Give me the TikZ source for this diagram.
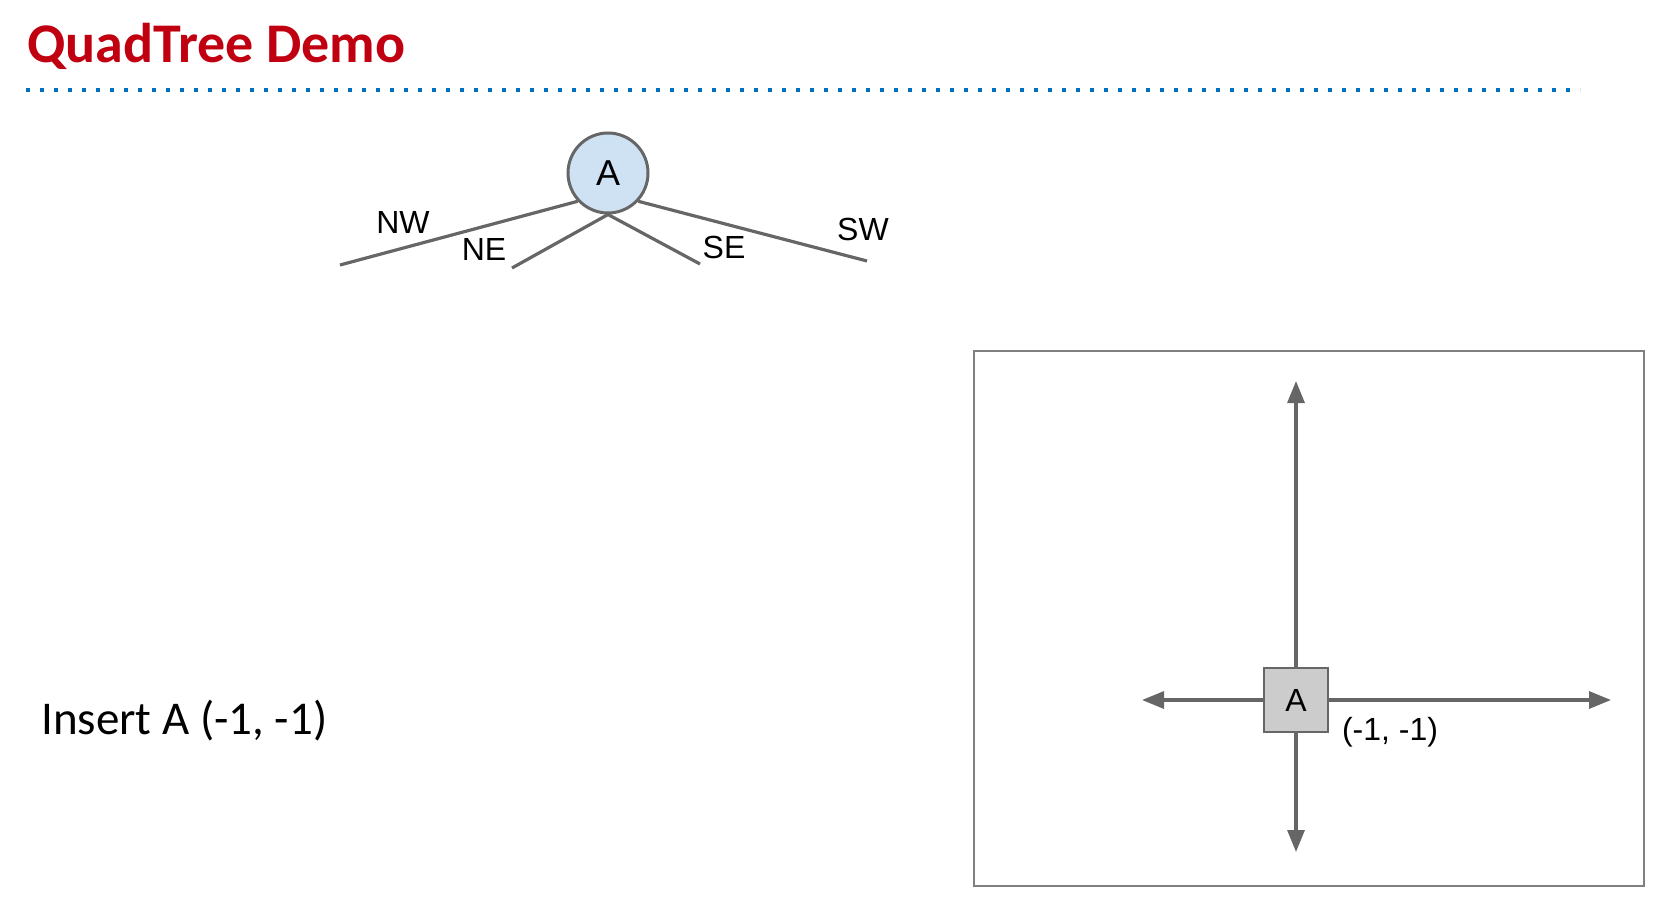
\documentclass[tikz,border=0pt]{standalone}
\usepackage{fontspec}
\setmainfont{Carlito}
\newfontfamily\arialfont{Liberation Sans}
\usetikzlibrary{arrows.meta}

\definecolor{titlered}{RGB}{192,0,16}
\definecolor{ruleblue}{RGB}{0,112,192}
\definecolor{edgegray}{RGB}{102,102,102}
\definecolor{nodeblue}{RGB}{207,226,243}
\definecolor{pointgray}{RGB}{204,204,204}

\tikzset{
    treeedge/.style={draw=edgegray, line width=3.2pt},
    quadlabel/.style={font=\arialfont\fontsize{32}{32}\selectfont, inner sep=0pt},
    axis/.style={draw=edgegray, line width=3.2pt, -{Triangle[length=22pt, width=17pt]}}
}

\begin{document}
\begin{tikzpicture}[x=1pt, y=-1pt]
            \useasboundingbox (0,0) rectangle (1660,904);

            % Title and the dotted rule under it
            \node[anchor=base west, inner sep=0pt, text=titlered, font=\bfseries\fontsize{56}{56}\selectfont] (title) at (27,63) {QuadTree Demo};
            \coordinate (ruleL) at (26,90);
            \coordinate (ruleR) at (1580,90);
            \draw[ruleblue, line width=3.5pt, dash pattern=on 3.5pt off 10.5pt] (ruleL) -- (ruleR);

            % Tree with the root A and its four quadrants
            \node[draw=edgegray, line width=3pt, circle, fill=nodeblue, minimum size=80pt, inner sep=0pt, font=\arialfont\fontsize{36}{36}\selectfont] (a) at (608,173) {A};
            \coordinate (nw) at (340,265);
            \coordinate (ne) at (512,268);
            \coordinate (se) at (700,264);
            \coordinate (sw) at (867,261);

            \draw[treeedge] (a.-137) -- (nw);
            \draw[treeedge] (a.south) -- (ne);
            \draw[treeedge] (a.south) -- (se);
            \draw[treeedge] (a.-43) -- (sw);

            \node[quadlabel] (lnw) at (403,222) {NW};
            \node[quadlabel] (lne) at (484,249) {NE};
            \node[quadlabel] (lse) at (724,247) {SE};
            \node[quadlabel] (lsw) at (863,229) {SW};

            % Step text
            \node[anchor=base west, inner sep=0pt, font=\fontsize{47}{47}\selectfont] (step1) at (41,734) {Insert A (-1, -1)};

            % Plane with the point A
            \node[draw=black!50, line width=2pt, minimum width=670pt, minimum height=535pt, inner sep=0pt] (plane) at (1309,618.5) {};
            \coordinate (up) at (1296,381);
            \coordinate (down) at (1296,852);
            \coordinate (left) at (1142,700);
            \coordinate (right) at (1611,700);
            \node[draw=edgegray, line width=2pt, fill=pointgray, minimum size=64pt, inner sep=0pt, font=\arialfont\fontsize{32}{32}\selectfont] (pa) at (1296,700) {A};

            \draw[axis] (pa) -- (up);
            \draw[axis] (pa) -- (down);
            \draw[axis] (pa) -- (left);
            \draw[axis] (pa) -- (right);

            \node[font=\arialfont\fontsize{32}{32}\selectfont, inner sep=0pt] (pcoord) at (1390,732) {(-1, -1)};
        \end{tikzpicture}
\end{document}
